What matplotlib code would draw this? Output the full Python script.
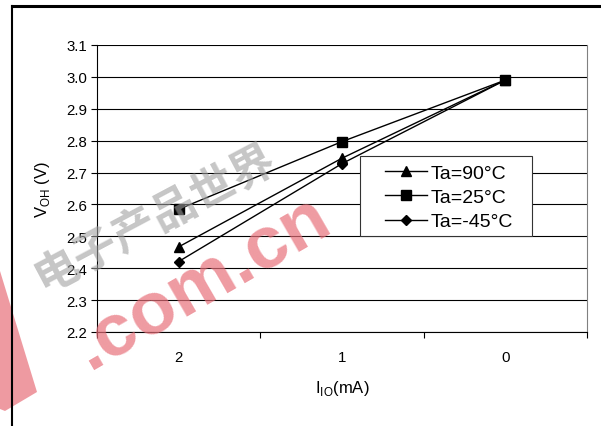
import matplotlib
matplotlib.use("Agg")
import matplotlib.pyplot as plt
from matplotlib.patches import Polygon, Rectangle
from matplotlib.lines import Line2D

plt.rcParams['font.family'] = ['Liberation Sans', 'Noto Sans CJK SC', 'DejaVu Sans']

# data
categories = ["2", "1", "0"]
labels = ["Ta=90°C", "Ta=25°C", "Ta=-45°C"]
v_90 = [2.467, 2.745, 2.99]
v_25 = [2.585, 2.797, 2.99]
v_m45 = [2.421, 2.728, 2.99]
y_ticks = [2.2, 2.3, 2.4, 2.5, 2.6, 2.7, 2.8, 2.9, 3.0, 3.1]

W, H = 601, 427
fig = plt.figure(figsize=(W / 100, H / 100), dpi=100)
ax = fig.add_axes([97 / W, 1 - 333 / H, 490 / W, 287 / H])

x = list(range(len(categories)))
series = [(v_90, "^", 7, 3), (v_25, "s", 6.5, 5), (v_m45, "D", 5.5, 4)]
for (vals, mk, ms, z), lab in zip(series, labels):
    ax.plot(x, vals, color="black", lw=1.0, marker=mk, ms=ms, label=lab, zorder=z)

ax.set_xlim(-0.5, len(categories) - 0.5)
ax.set_ylim(2.2, 3.1)
ax.set_yticks(y_ticks)
ax.set_yticklabels(["%.1f" % v for v in y_ticks], fontsize=10.8)
ax.yaxis.grid(True, color="black", lw=0.8)
ax.set_axisbelow(True)

# category boundaries carry the tick marks, labels sit in the middle
ax.set_xticks([i - 0.5 for i in range(len(categories) + 1)])
ax.set_xticklabels([])
ax.set_xticks(x, minor=True)
ax.set_xticklabels(categories, minor=True, fontsize=10.8)
ax.tick_params(axis="x", which="major", direction="out", length=4, width=0.8)
ax.tick_params(axis="x", which="minor", length=0, pad=13)
ax.tick_params(axis="y", direction="out", length=4, width=0.8, pad=3)

ax.spines["top"].set_visible(False)
ax.spines["right"].set_color("#808080")
ax.spines["left"].set_linewidth(0.8)
ax.spines["bottom"].set_linewidth(0.8)

ax.set_ylabel(r"V$_{\mathregular{OH}}$ (V)", fontsize=12, labelpad=10)
ax.set_xlabel(r"I$_{\mathregular{IO}}$(mA)", fontsize=12, labelpad=10)

# legend box drawn separately so the side padding can be wider than the top
ax.add_patch(Rectangle((0.537, 0.334), 0.351, 0.279, transform=ax.transAxes,
                       facecolor="white", edgecolor="#333333", lw=0.8, zorder=6))
leg = ax.legend(loc="upper left", bbox_to_anchor=(0.554, 0.643), fontsize=14,
                frameon=False, handlelength=2.15, handletextpad=0.2,
                borderpad=0.35, labelspacing=0.35)
leg.set_zorder(7)

# outer frame (top and left edges)
fig.add_artist(Line2D([12 / W, 1.0], [1 - 7 / H, 1 - 7 / H], color="black", lw=2.2))
fig.add_artist(Line2D([12 / W, 12 / W], [0, 1 - 7 / H], color="black", lw=1.5))

# watermark
bar = [(0, 272), (37, 393), (5, 412), (0, 410)]
fig.add_artist(Polygon([(px / W, 1 - py / H) for px, py in bar], closed=True,
                       transform=fig.transFigure, color="#e8707a", alpha=0.7, lw=0))
fig.text(155 / W, 1 - 220 / H, "电子产品世界", fontsize=32, color="#a0a0a0", alpha=0.6,
         rotation=28, ha="center", va="center", fontweight="bold")
fig.text(203 / W, 1 - 283 / H, ".com.cn", fontsize=54, color="#e8707a", alpha=0.7,
         rotation=30, ha="center", va="center", fontweight="bold")

fig.savefig("out.png", dpi=100)
